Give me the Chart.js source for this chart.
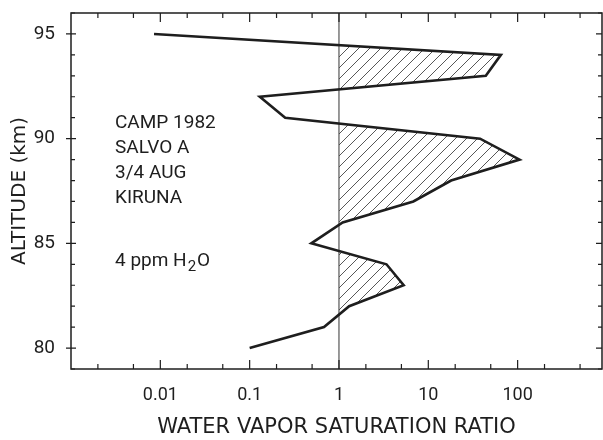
<!DOCTYPE html>
<html lang="en">
  <head>
    <meta charset="UTF-8" />
    <title>Water vapor saturation ratio - CAMP 1982</title>
    <script src="https://cdn.jsdelivr.net/npm/chart.js"></script>
    <style>
      body {
        margin: 0;
        padding: 0;
        background: #fff;
      }
    </style>
  </head>
  <body>
    <canvas id="profileChart" width="603" height="440"></canvas>

    <script>
      // profile, top to bottom
      const altitudes = [95, 94, 93, 92, 91, 90, 89, 88, 87, 86, 85, 84, 83, 82, 81, 80];
      const saturationRatio = [0.0085, 65, 44, 0.13, 0.25, 38, 105, 18, 6.8, 1.1, 0.49, 3.4, 5.3, 1.3, 0.68, 0.1];

      const xMajorTicks = [0.01, 0.1, 1, 10, 100];
      const xMinorTicks = [0.002, 0.005, 0.02, 0.05, 0.2, 0.5, 2, 5, 20, 50, 200, 500];
      const yLabelTicks = [80, 85, 90, 95];
      const saturationLevel = 1;

      const notes = ["CAMP 1982", "SALVO A", "3/4 AUG", "KIRUNA"];

      const ink = "#1e1e1e";
      const profile = altitudes.map((alt, i) => ({ x: saturationRatio[i], y: alt }));

      function makeHatch(ctx) {
        const size = 11;
        const c = document.createElement("canvas");
        c.width = size;
        c.height = size;
        const g = c.getContext("2d");
        g.strokeStyle = "#444";
        g.lineWidth = 0.9;
        g.beginPath();
        g.moveTo(0, size);
        g.lineTo(size, 0);
        g.moveTo(-2, 2);
        g.lineTo(2, -2);
        g.moveTo(size - 2, size + 2);
        g.lineTo(size + 2, size - 2);
        g.stroke();
        return ctx.createPattern(c, "repeat");
      }

      // hatch only where the ratio is above saturation, plus frame, ticks and notes
      const figureExtras = {
        id: "figureExtras",
        beforeDatasetsDraw(chart) {
          const { ctx, chartArea: a, scales } = chart;
          const xs = scales.x.getPixelForValue(saturationLevel);
          ctx.save();
          ctx.strokeStyle = "#333";
          ctx.lineWidth = 1;
          ctx.beginPath();
          ctx.moveTo(xs, a.top);
          ctx.lineTo(xs, a.bottom);
          ctx.stroke();
          ctx.restore();

          ctx.save();
          ctx.beginPath();
          ctx.rect(xs, a.top, a.right - xs, a.bottom - a.top);
          ctx.clip();
        },
        afterDatasetDraw(chart, args) {
          if (args.index === 1) chart.ctx.restore();
        },
        afterDraw(chart) {
          const { ctx, chartArea: a, scales } = chart;
          const x = scales.x;
          const y = scales.y;
          ctx.save();
          ctx.strokeStyle = ink;
          ctx.lineWidth = 1.5;
          ctx.strokeRect(a.left, a.top, a.right - a.left, a.bottom - a.top);

          ctx.lineWidth = 1.2;
          ctx.beginPath();
          xMajorTicks.concat(xMinorTicks).forEach((v) => {
            const px = x.getPixelForValue(v);
            const len = xMajorTicks.includes(v) ? 9 : 5;
            ctx.moveTo(px, a.bottom);
            ctx.lineTo(px, a.bottom - len);
            ctx.moveTo(px, a.top);
            ctx.lineTo(px, a.top + len);
          });
          y.ticks.forEach((t) => {
            const py = y.getPixelForValue(t.value);
            const major = yLabelTicks.includes(t.value);
            ctx.moveTo(a.left - (major ? 5 : 0), py);
            ctx.lineTo(a.left + (major ? 5 : 4), py);
            ctx.moveTo(a.right, py);
            ctx.lineTo(a.right - (major ? 6 : 4), py);
          });
          ctx.stroke();

          ctx.fillStyle = ink;
          ctx.font = "19px Roboto";
          ctx.textBaseline = "alphabetic";
          notes.forEach((line, i) => ctx.fillText(line, 115, 128 + i * 25));

          let tx = 115;
          const base = 266;
          ctx.fillText("4 ppm H", tx, base);
          tx += ctx.measureText("4 ppm H").width + 1;
          ctx.font = "15px Roboto";
          ctx.fillText("2", tx, base + 5);
          tx += ctx.measureText("2").width + 1;
          ctx.font = "19px Roboto";
          ctx.fillText("O", tx, base);
          ctx.restore();
        },
      };

      const canvas = document.getElementById("profileChart");
      const ctx = canvas.getContext("2d");

      new Chart(ctx, {
        type: "line",
        data: {
          datasets: [
            {
              data: profile,
              borderColor: ink,
              borderWidth: 2.6,
              pointRadius: 0,
              tension: 0,
              fill: false,
            },
            {
              data: profile,
              borderWidth: 0,
              pointRadius: 0,
              tension: 0,
              backgroundColor: makeHatch(ctx),
              fill: { value: saturationLevel },
            },
          ],
        },
        options: {
          responsive: false,
          animation: false,
          indexAxis: "y",
          layout: { padding: { top: 13, right: 1, left: 0, bottom: 0 } },
          plugins: {
            legend: { display: false },
            tooltip: { enabled: false },
          },
          scales: {
            x: {
              type: "logarithmic",
              min: 0.001,
              max: 880,
              grid: { display: false },
              border: { display: false },
              afterBuildTicks(scale) {
                scale.ticks = xMajorTicks.map((v) => ({ value: v }));
              },
              afterFit(scale) {
                scale.height = 71;
                scale.paddingLeft = 0;
                scale.paddingRight = 0;
              },
              ticks: {
                autoSkip: false,
                maxRotation: 0,
                padding: 8,
                color: ink,
                font: { family: "Roboto", size: 18 },
                callback: (v) => String(v),
              },
              title: {
                display: true,
                text: "WATER VAPOR SATURATION RATIO",
                color: ink,
                font: { family: "DejaVu Sans", size: 21 },
                padding: { top: 0, bottom: 0 },
              },
            },
            y: {
              type: "linear",
              min: 79,
              max: 96,
              grid: { display: false },
              border: { display: false },
              afterFit(scale) {
                scale.width = 71;
                scale.paddingTop = 0;
                scale.paddingBottom = 0;
              },
              ticks: {
                stepSize: 1,
                autoSkip: false,
                padding: 8,
                color: ink,
                font: { family: "Roboto", size: 19 },
                callback: (v) => (yLabelTicks.includes(v) ? String(v) : ""),
              },
              title: {
                display: true,
                text: "ALTITUDE (km)",
                color: ink,
                font: { family: "DejaVu Sans", size: 20 },
                padding: { top: 8, bottom: 0 },
              },
            },
          },
        },
        plugins: [figureExtras],
      });
    </script>
  </body>
</html>
